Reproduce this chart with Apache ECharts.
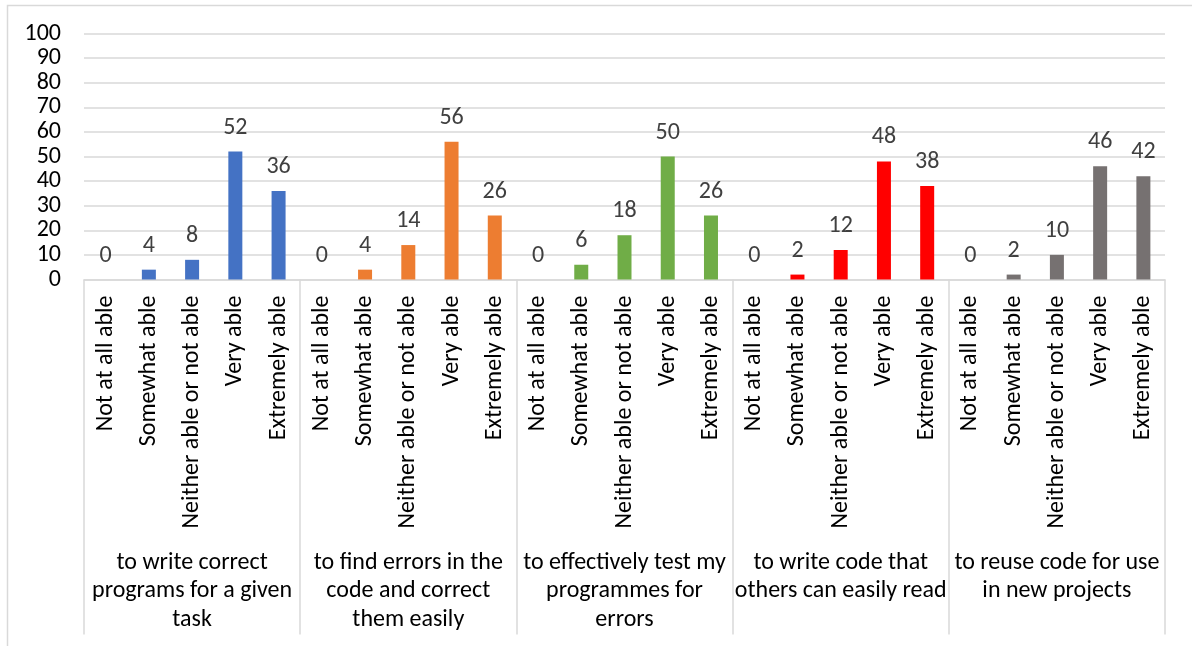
<!DOCTYPE html>
<html>
<head>
<meta charset="utf-8">
<script src="https://cdn.jsdelivr.net/npm/echarts@6/dist/echarts.min.js"></script>
<style>
html,body{margin:0;padding:0;background:#fff;}
#chart{width:1192px;height:646px;}
</style>
</head>
<body>
<div id="chart"></div>
<script>
const levels = ["Not at all able", "Somewhat able", "Neither able or not able", "Very able", "Extremely able"];
const groups = [
  "to write correct\nprograms for a given\ntask",
  "to find errors in the\ncode and correct\nthem easily",
  "to effectively test my\nprogrammes for\nerrors",
  "to write code that\nothers can easily read",
  "to reuse code for use\nin new projects"
];
const writeCorrect = [0, 4, 8, 52, 36];
const findErrors = [0, 4, 14, 56, 26];
const testProgrammes = [0, 6, 18, 50, 26];
const readableCode = [0, 2, 12, 48, 38];
const reuseCode = [0, 2, 10, 46, 42];
const groupColors = ["#4472C4", "#ED7D31", "#70AD47", "#FF0000", "#767171"];
const yTicks = [0, 10, 20, 30, 40, 50, 60, 70, 80, 90, 100];

const allValues = [writeCorrect, findErrors, testProgrammes, readableCode, reuseCode];
const cats = [];
const barData = [];
allValues.forEach((vals, g) => {
  vals.forEach((v, i) => {
    cats.push(levels[i]);
    barData.push({ value: v, itemStyle: { color: groupColors[g] } });
  });
});

const FONT = "Carlito, Lato, 'Liberation Sans', sans-serif";
const chart = echarts.init(document.getElementById('chart'), null, { renderer: 'canvas' });
chart.setOption({
  animation: false,
  backgroundColor: '#ffffff',
  graphic: [{
    type: 'rect',
    shape: { x: 7.5, y: 5.5, width: 1220, height: 700 },
    style: { fill: 'none', stroke: '#d9d9d9', lineWidth: 1.5 },
    silent: true
  }],
  grid: { left: 84, right: 27, top: 33.5, bottom: 366.5, containLabel: false },
  xAxis: [{
    type: 'category',
    data: cats,
    position: 'bottom',
    axisLine: { show: false },
    axisTick: { show: false },
    axisLabel: {
      interval: 0, rotate: 90, margin: 16,
      fontFamily: FONT, fontSize: 24, color: '#000000'
    }
  }, {
    type: 'category',
    data: groups,
    position: 'bottom',
    offset: 0,
    axisLine: { show: true, lineStyle: { color: '#d9d9d9', width: 1.5 } },
    axisTick: { show: true, length: 355, interval: 0, lineStyle: { color: '#d9d9d9', width: 1.5 } },
    axisLabel: {
      interval: 0, margin: 269,
      fontFamily: FONT, fontSize: 24, color: '#000000', lineHeight: 28.5, align: 'center'
    }
  }],
  yAxis: {
    type: 'value',
    min: 0, max: 100, interval: 10,
    axisLine: { show: false },
    axisTick: { show: false },
    splitLine: { lineStyle: { color: '#d9d9d9', width: 1.5 } },
    axisLabel: {
      margin: 23, fontFamily: FONT, fontSize: 24, color: '#000000',
      formatter: v => yTicks.includes(v) ? String(v) : ''
    }
  },
  series: [{
    type: 'bar',
    xAxisIndex: 0,
    data: barData,
    barWidth: 14,
    label: {
      show: true, position: 'top', distance: 12,
      fontFamily: FONT, fontSize: 24, color: '#404040'
    }
  }]
});
</script>
</body>
</html>
